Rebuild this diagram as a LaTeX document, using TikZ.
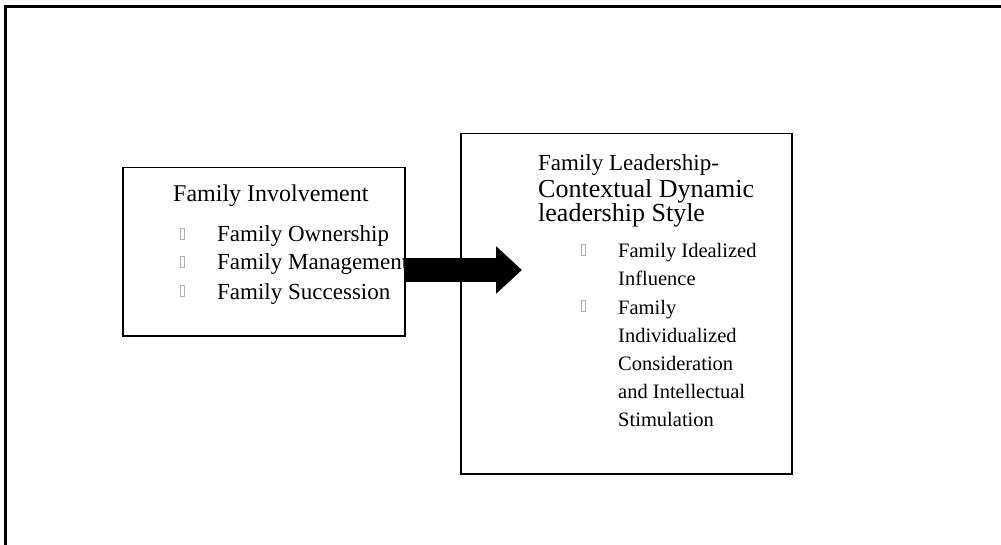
\documentclass[tikz,border=0pt]{standalone}
\usepackage{fontspec}
\setmainfont{Liberation Serif}
\usetikzlibrary{arrows.meta,positioning}

\begin{document}
\begin{tikzpicture}[x=1pt,y=-1pt,
  box/.style={draw, line width=1.5pt, inner sep=0, anchor=north west},
  item/.style={anchor=base west, inner sep=0},
  bul/.style={draw=black!30, line width=0.6pt, minimum width=4pt, minimum height=11pt, inner sep=0, anchor=south west}]
\useasboundingbox (0,0) rectangle (1001,545);
\draw[line width=3pt] (5,545) -- (5,7) -- (1001,7);
\node[box, minimum width=282pt, minimum height=168pt] (inv) at (122,167) {};
\node[box, minimum width=331pt, minimum height=340pt] (lead) at (460,133) {};
\node[item, font=\fontsize{24}{28}\selectfont] (invt) at (173,202) {Family Involvement};
\node[item, font=\fontsize{23}{27}\selectfont] (own) at (217,242) {Family Ownership};
\node[item, font=\fontsize{23}{27}\selectfont] (man) at (217,270) {Family Management};
\node[item, font=\fontsize{23}{27}\selectfont] (suc) at (217,299) {Family Succession};
\node[bul] (b1) at (180,240) {};
\node[bul] (b2) at (180,268) {};
\node[bul] (b3) at (180,297) {};
\node[item, font=\fontsize{23}{27}\selectfont] (lt1) at (538,171) {Family Leadership-};
\node[item, font=\fontsize{26}{30}\selectfont] (lt2) at (538,198) {Contextual Dynamic};
\node[item, font=\fontsize{26}{30}\selectfont] (lt3) at (538,222) {leadership Style};
\node[item, font=\fontsize{20.5}{24}\selectfont] (idl) at (618,258) {Family Idealized};
\node[item, font=\fontsize{20.5}{24}\selectfont] (inf) at (618,286) {Influence};
\node[item, font=\fontsize{20.5}{24}\selectfont] (fam) at (618,314) {Family};
\node[item, font=\fontsize{20.5}{24}\selectfont] (ind) at (618,342) {Individualized};
\node[item, font=\fontsize{20.5}{24}\selectfont] (con) at (618,370) {Consideration};
\node[item, font=\fontsize{20.5}{24}\selectfont] (ant) at (618,398) {and Intellectual};
\node[item, font=\fontsize{20.5}{24}\selectfont] (sti) at (618,426) {Stimulation};
\node[bul] (b4) at (581,256) {};
\node[bul] (b5) at (581,312) {};
\coordinate (tip) at (522,270);
\draw[line width=24pt, -{Triangle[length=26pt,width=46pt]}] (inv.east |- tip) -- (tip);
\end{tikzpicture}
\end{document}
